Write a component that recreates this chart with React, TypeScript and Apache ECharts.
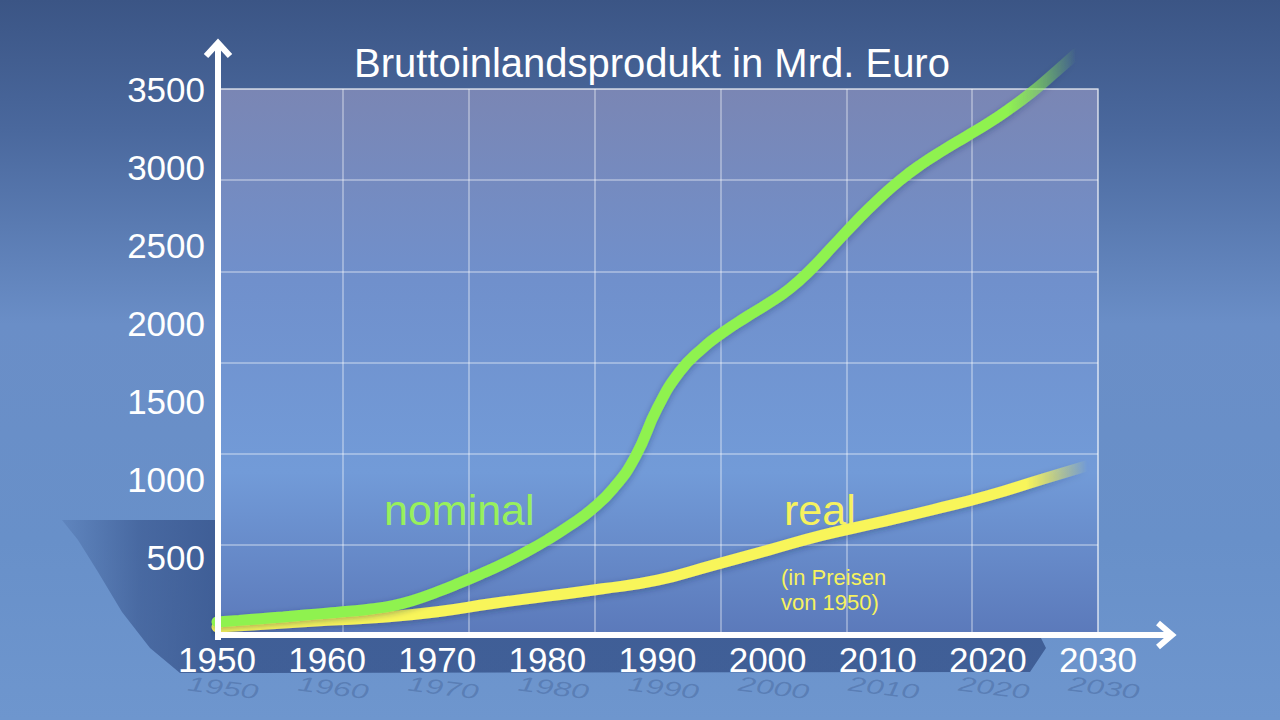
import React, { useEffect, useRef } from 'react';
import * as echarts from 'echarts';

// ---- data ----
const nominalYears = [1950, 1952, 1954, 1956, 1958, 1960, 1962, 1964, 1966, 1968, 1970, 1972, 1974, 1976, 1978, 1980, 1982, 1984, 1986, 1988, 1990, 1992, 1994, 1996, 1998, 2000, 2002, 2004, 2006, 2008, 2010, 2012, 2014, 2016, 2018, 2020, 2022, 2024, 2026, 2028];
const nominalValues = [90, 100, 111, 122, 134, 146, 158, 173, 195, 232, 282, 338, 398, 462, 535, 615, 705, 808, 945, 1150, 1460, 1690, 1835, 1945, 2038, 2125, 2222, 2350, 2500, 2650, 2790, 2915, 3020, 3110, 3195, 3280, 3375, 3480, 3600, 3725];
const realYears = [1950, 1955, 1960, 1965, 1970, 1975, 1980, 1985, 1990, 1995, 2000, 2005, 2010, 2015, 2020, 2025, 2029];
const realValues = [58, 78, 100, 120, 155, 208, 255, 302, 357, 452, 548, 645, 725, 808, 897, 1005, 1090];

const xMin = 1950;
const xMax = 2030;
const xStep = 10;
const yMin = 0;
const yMax = 3500;
const yStep = 500;
const xTickLabels = [1950, 1960, 1970, 1980, 1990, 2000, 2010, 2020, 2030];

const title = 'Bruttoinlandsprodukt in Mrd. Euro';
const nominalLabel = 'nominal';
const realLabel = 'real';
const realNote = ['(in Preisen', 'von 1950)'];

const FONT = '"Liberation Sans", Arial, Helvetica, sans-serif';
const GREEN = '#8ff250';
const YELLOW = '#f8f55a';

const fade = (c: string, c0: string, start: number) =>
  new echarts.graphic.LinearGradient(0, 0, 1, 0, [
    { offset: 0, color: c },
    { offset: start, color: c },
    { offset: 1, color: c0 },
  ]);

export default function App() {
  const ref = useRef<HTMLDivElement>(null);
  useEffect(() => {
    document.body.style.margin = '0';
    const chart = echarts.init(ref.current!, null, { renderer: 'svg' });
    const option: any = {
      animation: false,
      backgroundColor: new echarts.graphic.LinearGradient(0, 0, 0, 1, [
        { offset: 0, color: '#3b5585' },
        { offset: 0.18, color: '#4a689d' },
        { offset: 0.45, color: '#6a8ec7' },
        { offset: 0.75, color: '#6890c9' },
        { offset: 1, color: '#6e96ce' },
      ]),
      grid: {
        left: 217,
        top: 89,
        width: 881,
        height: 547,
        show: true,
        z: 1,
        backgroundColor: new echarts.graphic.LinearGradient(0, 0, 0, 1, [
          { offset: 0, color: '#7a86b4' },
          { offset: 0.35, color: '#7090cc' },
          { offset: 0.7, color: '#729bd8' },
          { offset: 1, color: '#5b79ba' },
        ]),
        borderColor: 'rgba(255,255,255,0.35)',
        borderWidth: 2,
      },
      xAxis: [
        {
          type: 'value',
          min: xMin,
          max: xMax,
          interval: xStep,
          z: 2,
          axisLine: { show: false },
          axisTick: { show: false },
          splitLine: { show: false },
          axisLabel: {
            color: '#ffffff',
            fontFamily: FONT,
            fontSize: 35,
            margin: 6,
            showMinLabel: true,
            showMaxLabel: true,
            formatter: (v: number) => String(v),
          },
        },
        {
          type: 'value',
          min: 0,
          max: 7,
          interval: 1,
          z: 2,
          axisLine: { show: false },
          axisTick: { show: false },
          axisLabel: { show: false },
          splitLine: { show: true, lineStyle: { color: 'rgba(255,255,255,0.33)', width: 2 } },
        },
      ],
      yAxis: [
        {
          type: 'value',
          min: yMin,
          max: yMax,
          interval: yStep,
          z: 2,
          axisLine: { show: false },
          axisTick: { show: false },
          splitLine: { show: false },
          axisLabel: {
            color: '#ffffff',
            fontFamily: FONT,
            fontSize: 35,
            margin: 12,
            formatter: (v: number) => (v === 0 ? '' : String(v)),
          },
        },
        {
          type: 'value',
          min: 0,
          max: 6,
          interval: 1,
          z: 2,
          axisLine: { show: false },
          axisTick: { show: false },
          axisLabel: { show: false },
          splitLine: { show: true, lineStyle: { color: 'rgba(255,255,255,0.33)', width: 2 } },
        },
      ],
      series: [
        {
          name: 'real',
          type: 'line',
          z: 3,
          xAxisIndex: 0,
          yAxisIndex: 0,
          clip: false,
          smooth: 0.5,
          showSymbol: false,
          data: realYears.map((y, i) => [y, realValues[i]]),
          lineStyle: {
            width: 11,
            cap: 'round',
            color: fade(YELLOW, 'rgba(248,245,90,0)', 0.93),
            shadowColor: 'rgba(30,40,80,0.35)',
            shadowBlur: 6,
            shadowOffsetY: 2,
          },
        },
        {
          name: 'nominal',
          type: 'line',
          z: 4,
          xAxisIndex: 0,
          yAxisIndex: 0,
          clip: false,
          smooth: 0.5,
          showSymbol: false,
          data: nominalYears.map((y, i) => [y, nominalValues[i]]),
          lineStyle: {
            width: 11,
            cap: 'round',
            color: fade(GREEN, 'rgba(143,242,80,0)', 0.92),
            shadowColor: 'rgba(30,40,80,0.35)',
            shadowBlur: 6,
            shadowOffsetY: 2,
          },
        },
      ],
    };
    chart.setOption(option);

    const px = (year: number) => chart.convertToPixel({ xAxisIndex: 0 }, year) as number;
    const reflections = xTickLabels.map((yr) => ({
      type: 'text',
      z: 0,
      x: px(yr) + 6,
      y: 688,
      rotation: -0.12,
      scaleY: 0.65,
      style: {
        text: String(yr),
        fill: 'rgba(35,60,110,0.26)',
        font: `italic 32px ${FONT}`,
        align: 'center',
        verticalAlign: 'middle',
      },
    }));

    chart.setOption({
      graphic: [
        // shadow of the panel on the left and the band under the x axis
        {
          type: 'polygon',
          z: 0,
          shape: {
            points: [
              [62, 520], [226, 520], [226, 636], [1040, 636], [1046, 648], [1030, 672],
              [180, 673], [150, 648], [122, 612], [98, 572], [78, 540],
            ],
          },
          style: {
            fill: new echarts.graphic.LinearGradient(0, 0, 1, 0, [
              { offset: 0, color: 'rgba(45,72,128,0.15)' },
              { offset: 0.08, color: 'rgba(45,72,128,0.55)' },
              { offset: 0.16, color: 'rgba(45,72,128,0.7)' },
              { offset: 1, color: 'rgba(45,72,128,0.7)' },
            ]),
          },
        },
        ...reflections,
        // title
        {
          type: 'text',
          z: 10,
          x: 652,
          y: 63,
          style: {
            text: title,
            fill: '#ffffff',
            font: `40px ${FONT}`,
            align: 'center',
            verticalAlign: 'middle',
          },
        },
        // y axis with arrow
        {
          type: 'line',
          z: 10,
          shape: { x1: 218, y1: 640, x2: 218, y2: 42 },
          style: { stroke: '#ffffff', lineWidth: 6 },
        },
        {
          type: 'polyline',
          z: 10,
          shape: { points: [[206, 56], [218, 43], [230, 56]] },
          style: { stroke: '#ffffff', lineWidth: 6, fill: 'none', lineJoin: 'miter' },
        },
        // x axis with arrow
        {
          type: 'line',
          z: 10,
          shape: { x1: 215, y1: 635, x2: 1172, y2: 635 },
          style: { stroke: '#ffffff', lineWidth: 6 },
        },
        {
          type: 'polyline',
          z: 10,
          shape: { points: [[1158, 623], [1172, 635], [1158, 647]] },
          style: { stroke: '#ffffff', lineWidth: 6, fill: 'none', lineJoin: 'miter' },
        },
        // series annotations
        {
          type: 'text',
          z: 10,
          x: 384,
          y: 510,
          style: { text: nominalLabel, fill: '#98f05c', font: `43px ${FONT}`, verticalAlign: 'middle' },
        },
        {
          type: 'text',
          z: 10,
          x: 784,
          y: 510,
          style: { text: realLabel, fill: '#f6f25e', font: `43px ${FONT}`, verticalAlign: 'middle' },
        },
        {
          type: 'text',
          z: 10,
          x: 781,
          y: 577,
          style: { text: realNote[0], fill: '#f6f25e', font: `22px ${FONT}`, verticalAlign: 'middle' },
        },
        {
          type: 'text',
          z: 10,
          x: 781,
          y: 602,
          style: { text: realNote[1], fill: '#f6f25e', font: `22px ${FONT}`, verticalAlign: 'middle' },
        },
      ],
    });
    return () => chart.dispose();
  }, []);
  return <div ref={ref} style={{ width: 1280, height: 720, position: 'fixed', left: 0, top: 0 }} />;
}
